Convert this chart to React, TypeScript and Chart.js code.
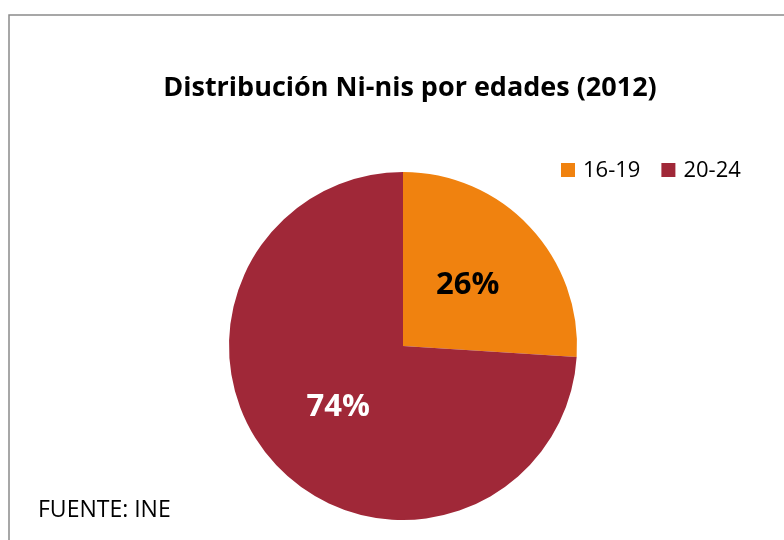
import React, { useEffect, useRef } from "react";
import { Chart, registerables } from "chart.js";

Chart.register(...registerables);

const title = "Distribución Ni-nis por edades (2012)";
const categories = ["16-19", "20-24"];
const values = [26, 74];
const colors = ["#F0820F", "#A02838"];
const labelColors = ["#000000", "#FFFFFF"];
const source = "FUENTE: INE";

const FONT = "'Open Sans', 'Liberation Sans', sans-serif";

const decorPlugin = {
  id: "decor",
  beforeDraw(chart: any) {
    const ctx = chart.ctx;
    ctx.save();
    ctx.fillStyle = "#ffffff";
    ctx.fillRect(0, 0, chart.width, chart.height);
    ctx.strokeStyle = "#8a8a8a";
    ctx.lineWidth = 1.5;
    ctx.strokeRect(9, 15, chart.width + 20, chart.height + 20);
    ctx.restore();
  },
  afterDraw(chart: any) {
    const ctx = chart.ctx;
    ctx.save();
    // title
    ctx.fillStyle = "#000";
    ctx.textBaseline = "middle";
    ctx.textAlign = "center";
    ctx.font = `bold 27px ${FONT}`;
    ctx.fillText(title, 410, 88);
    // legend
    const labels = chart.data.labels as string[];
    const bg = chart.data.datasets[0].backgroundColor as string[];
    ctx.font = `22px ${FONT}`;
    ctx.textAlign = "left";
    let x = 561;
    labels.forEach((lab, i) => {
      ctx.fillStyle = bg[i];
      ctx.fillRect(x, 163, 14, 14);
      ctx.fillStyle = "#000";
      ctx.fillText(lab, x + 22, 171);
      x += 22 + ctx.measureText(lab).width + 21;
    });
    // source
    ctx.font = `23px ${FONT}`;
    ctx.fillText(source, 38, 510);
    // percentage labels
    const meta = chart.getDatasetMeta(0);
    const total = values.reduce((a, b) => a + b, 0);
    ctx.font = `bold 31px ${FONT}`;
    ctx.textAlign = "center";
    meta.data.forEach((arc: any, i: number) => {
      const mid = (arc.startAngle + arc.endAngle) / 2;
      const r = arc.outerRadius * 0.51;
      const px = arc.x + Math.cos(mid) * r;
      const py = arc.y + Math.sin(mid) * r;
      ctx.fillStyle = labelColors[i];
      ctx.fillText(Math.round((values[i] / total) * 100) + "%", px, py);
    });
    ctx.restore();
  },
};

export default function App() {
  const ref = useRef<HTMLCanvasElement>(null);
  useEffect(() => {
    if (!ref.current) return;
    const chart = new Chart(ref.current, {
      type: "pie",
      data: {
        labels: categories,
        datasets: [
          {
            data: values,
            backgroundColor: colors,
            borderWidth: 0,
          },
        ],
      },
      options: {
        responsive: false,
        animation: false,
        layout: { padding: { top: 172, bottom: 20, left: 22, right: 0 } },
        plugins: {
          legend: { display: false },
          title: { display: false },
          tooltip: { enabled: false },
        },
      },
      plugins: [decorPlugin],
    });
    return () => chart.destroy();
  }, []);
  return (
    <div style={{ position: "fixed", left: 0, top: 0, width: 784, height: 540, background: "#fff" }}>
      <canvas ref={ref} width={784} height={540} />
    </div>
  );
}
